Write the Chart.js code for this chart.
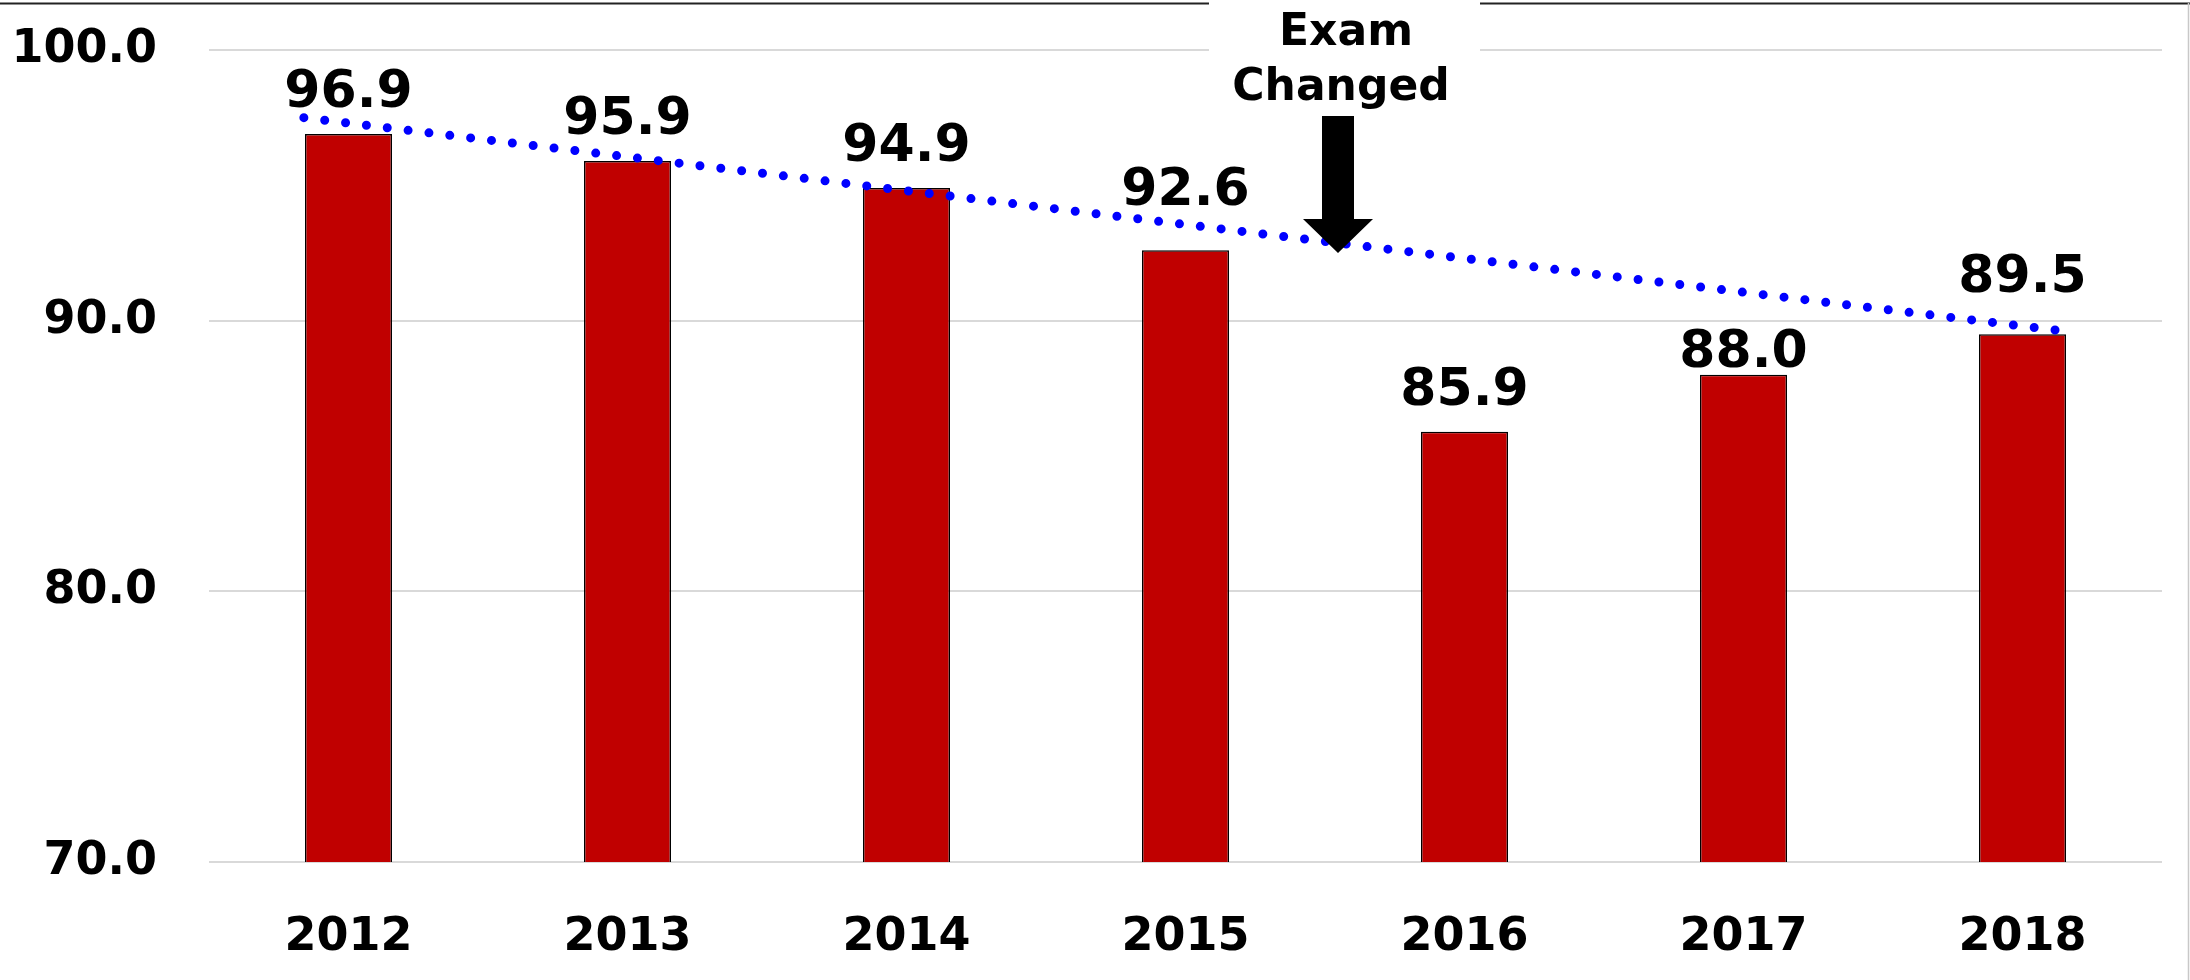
<!DOCTYPE html>
<html>
<head>
<meta charset="utf-8">
<script src="https://cdn.jsdelivr.net/npm/chart.js@4.4.1/dist/chart.umd.min.js"></script>
<style>
  html, body { margin: 0; padding: 0; background: #fff; }
  #wrap { width: 2190px; height: 980px; }
</style>
</head>
<body>
<div id="wrap"><canvas id="chart" width="2190" height="980"></canvas></div>
<script>
const years = ['2012', '2013', '2014', '2015', '2016', '2017', '2018'];
const scores = [96.9, 95.9, 94.9, 92.6, 85.9, 88.0, 89.5];
const yTicks = [70, 80, 90, 100];
// dotted trend line (first bar's left edge -> last bar's right edge)
const trendX = [-0.16, 6.16];
const trendY = [97.5, 89.6];
const noteLines = ['Exam', 'Changed'];
const noteArrowTip = 92.5;

const FONT = 'DejaVu Sans';
// a few labels were nudged by hand in the original (px, + = up)
const labelNudge = [0, 0, 0, 18, 0, -19, 15];

// value labels above the bars
const barLabels = {
  id: 'barLabels',
  afterDatasetsDraw(chart) {
    const ctx = chart.ctx;
    const meta = chart.getDatasetMeta(0);
    ctx.save();
    ctx.font = `bold 52px "${FONT}"`;
    ctx.fillStyle = '#000';
    ctx.textAlign = 'center';
    ctx.textBaseline = 'alphabetic';
    meta.data.forEach((bar, i) => {
      ctx.fillText(scores[i].toFixed(1), bar.x, bar.y - 27 - labelNudge[i]);
    });
    ctx.restore();
  }
};

// page frame + the "Exam Changed" note with its arrow
const frame = {
  id: 'frame',
  afterDraw(chart) {
    const ctx = chart.ctx;
    const x = chart.scales.x;
    const y = chart.scales.y;
    const cx = (x.getPixelForValue(3) + x.getPixelForValue(4)) / 2 + 19;
    const boxL = cx - 135, boxR = cx + 136;
    ctx.save();
    ctx.fillStyle = '#fff';
    ctx.fillRect(boxL, 0, boxR - boxL, 108);

    ctx.strokeStyle = '#222';
    ctx.lineWidth = 2;
    ctx.beginPath();
    ctx.moveTo(0, 3.5); ctx.lineTo(boxL, 3.5);
    ctx.moveTo(boxR, 3.5); ctx.lineTo(chart.width, 3.5);
    ctx.stroke();

    ctx.strokeStyle = '#c8c8c8';
    ctx.lineWidth = 1.5;
    ctx.beginPath();
    ctx.moveTo(chart.width - 1.5, 3);
    ctx.lineTo(chart.width - 1.5, chart.height);
    ctx.stroke();

    ctx.fillStyle = '#000';
    ctx.font = `bold 44px "${FONT}"`;
    ctx.textAlign = 'center';
    ctx.textBaseline = 'alphabetic';
    ctx.fillText(noteLines[0], cx + 2, 45);
    ctx.fillText(noteLines[1], cx - 3, 100);

    const ax = cx - 6;
    const tip = y.getPixelForValue(noteArrowTip);
    ctx.beginPath();
    ctx.moveTo(ax - 16, 116);
    ctx.lineTo(ax + 16, 116);
    ctx.lineTo(ax + 16, tip - 34);
    ctx.lineTo(ax + 35, tip - 34);
    ctx.lineTo(ax, tip);
    ctx.lineTo(ax - 35, tip - 34);
    ctx.lineTo(ax - 16, tip - 34);
    ctx.closePath();
    ctx.fill();
    ctx.restore();
  }
};

const tickFont = { family: FONT, size: 46, weight: 'bold' };

new Chart(document.getElementById('chart'), {
  type: 'bar',
  data: {
    labels: years,
    datasets: [
      {
        type: 'bar',
        data: scores,
        backgroundColor: '#c00000',
        borderColor: '#000',
        borderWidth: 1.5,
        grouped: false,
        categoryPercentage: 1,
        barPercentage: 0.312,
        order: 1
      },
      {
        type: 'line',
        data: trendX.map((v, i) => ({ x: v, y: trendY[i] })),
        xAxisID: 'xTrend',
        borderColor: '#0000ff',
        borderWidth: 9,
        borderDash: [0, 21],
        borderCapStyle: 'round',
        pointRadius: 0,
        fill: false,
        order: 0
      }
    ]
  },
  options: {
    responsive: false,
    animation: false,
    devicePixelRatio: 1,
    layout: { padding: { top: 50, right: 28, left: 0, bottom: 0 } },
    plugins: { legend: { display: false }, tooltip: { enabled: false } },
    scales: {
      x: {
        grid: { display: false, drawTicks: false },
        border: { display: false },
        ticks: { color: '#000', font: tickFont, padding: 48 },
        afterFit(s) { s.height = 118; }
      },
      xTrend: { type: 'linear', display: false, offset: false, min: -0.5, max: 6.5 },
      y: {
        min: 70,
        max: 100,
        afterBuildTicks(s) { s.ticks = yTicks.map(v => ({ value: v })); },
        grid: { color: '#d9d9d9', lineWidth: 2, drawTicks: false },
        border: { display: false },
        ticks: { color: '#000', font: tickFont, padding: 52, callback: v => v.toFixed(1) },
        afterFit(s) {
          s.width = 209;
          s.paddingTop = 0;
          s.paddingBottom = 0;
        }
      }
    }
  },
  plugins: [barLabels, frame]
});
</script>
</body>
</html>
